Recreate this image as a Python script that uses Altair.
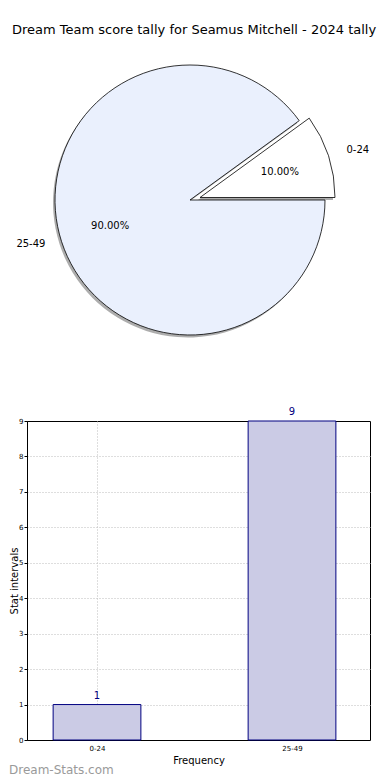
import json
import math
import altair as alt
import pandas as pd

# ---- data ----
title_text = "Dream Team score tally for Seamus Mitchell - 2024 tally"
categories = ["0-24", "25-49"]
counts = [1, 9]
pct_labels = ["10.00%", "90.00%"]
watermark = ["Dream-Stats.com"]

total = sum(counts)
df = pd.DataFrame({
    "cat": categories,
    "count": counts,
    "idx": list(range(len(categories))),
    "pct": pct_labels,
})

FONT = "DejaVu Sans"

# ---- pie panel ----
PW, PH = 343, 403
CX, CY = 163, 192
R = 135
start = math.radians(54)
theta_scale = alt.Scale(domain=[0, total], range=[start, start + 2 * math.pi])

base = (
    alt.Chart(df)
    .transform_window(cum="sum(count)")
    .transform_calculate(t0="datum.cum - datum.count", mid="datum.cum - datum.count / 2")
)
f_small = f"datum.cat == '{categories[0]}'"
f_big = f"datum.cat == '{categories[1]}'"
EX, EY = 10, -2.5
SX, SY = -2, 2.5


def arc(filt, dx, dy, **kw):
    return base.transform_filter(filt).mark_arc(radius=R, xOffset=dx, yOffset=dy, **kw).encode(
        x=alt.value(CX), y=alt.value(CY),
        theta=alt.Theta("t0:Q", scale=theta_scale, stack=False),
        theta2="cum:Q",
    )


def label(filt, field, radius, dx, dy, align):
    return base.transform_filter(filt).mark_text(
        radius=radius, xOffset=dx, yOffset=dy, align=align, baseline="middle",
        fontSize=10, font=FONT, color="black",
    ).encode(
        x=alt.value(CX), y=alt.value(CY),
        theta=alt.Theta("mid:Q", scale=theta_scale, stack=False),
        text=f"{field}:N",
    )


shadow_kw = dict(fill="#8a8a8a", opacity=0.7, strokeWidth=0)
slice_kw = dict(stroke="black", strokeWidth=0.8)

title_layer = alt.Chart(pd.DataFrame({"t": [title_text]})).mark_text(
    fontSize=13, font=FONT, color="black", align="center", baseline="alphabetic"
).encode(x=alt.value(167), y=alt.value(26), text="t:N")

pie = alt.layer(
    arc(f_big, SX, SY, **shadow_kw),
    arc(f_small, EX + SX, EY + SY, **shadow_kw),
    arc(f_big, 0, 0, fill="#eaf0fd", **slice_kw),
    arc(f_small, EX, EY, fill="white", **slice_kw),
    label(f_small, "pct", 84, EX, EY, "center"),
    label(f_big, "pct", 84, 0, 0, "center"),
    label(f_small, "cat", 154, EX, EY, "left"),
    label(f_big, "cat", 152, 0, -3, "right"),
    title_layer,
).properties(width=PW, height=PH, view=alt.ViewBackground(stroke="white", strokeOpacity=0))

# ---- bar panel ----
BW, BH = 343, 319
ymax = max(counts)
grid_kw = dict(grid=True, gridDash=[1, 2], gridColor="#bdbdbd", gridWidth=1)
xaxis = alt.Axis(
    values=list(range(len(categories))),
    labelExpr=f"{json.dumps(categories)}[datum.value]",
    title="Frequency", ticks=False, labelFontSize=7, labelPadding=4,
    titleFontSize=10, titleFontWeight="normal", titlePadding=4,
    domainColor="black", labelColor="black", titleColor="black",
    labelFont=FONT, titleFont=FONT, **grid_kw,
)
yaxis = alt.Axis(
    values=list(range(ymax + 1)), title="Stat intervals",
    tickSize=3, tickColor="black", labelFontSize=7, labelPadding=1,
    titleFontSize=10, titleFontWeight="normal", titleX=-10, titleY=BH / 2,
    titleBaseline="alphabetic", titleAngle=270,
    domainColor="black", labelColor="black", titleColor="black",
    labelFont=FONT, titleFont=FONT,
    gridOpacity={"condition": {"test": f"datum.value == {ymax}", "value": 0}, "value": 1},
    **grid_kw,
)
xs = alt.Scale(domain=[-0.359, 1.4], nice=False, zero=False, padding=0)
ys = alt.Scale(domain=[0, ymax], nice=False, padding=0)

bars = alt.Chart(df).transform_calculate(
    x0="datum.idx - 0.225", x1="datum.idx + 0.225"
).mark_bar(fill="#cbcbe5", stroke="#000080", strokeWidth=1).encode(
    x=alt.X("x0:Q", scale=xs, axis=xaxis),
    x2="x1:Q",
    y=alt.Y("count:Q", scale=ys, axis=yaxis),
    y2=alt.datum(0),
)
bar_text = alt.Chart(df).mark_text(
    dy=-4, baseline="bottom", color="#000080", fontSize=10, font=FONT
).encode(
    x=alt.X("idx:Q", scale=xs, axis=xaxis),
    y=alt.Y("count:Q", scale=ys, axis=yaxis),
    text="count:Q",
)
wm = alt.Chart(pd.DataFrame({"t": watermark})).mark_text(
    fontSize=12, font=FONT, color="#9a9a9a", align="left", baseline="middle"
).encode(x=alt.value(-18), y=alt.value(BH + 30), text="t:N")

bar = alt.layer(bars, bar_text, wm).properties(width=BW, height=BH)

chart = alt.vconcat(pie, bar, spacing=10, bounds="flush").properties(
    padding={"left": 0, "top": 0, "right": 0, "bottom": 0}
).configure(font=FONT).configure_view(stroke="black", strokeWidth=1)

chart.save("out.html", embed_options={"renderer": "svg", "actions": False})
